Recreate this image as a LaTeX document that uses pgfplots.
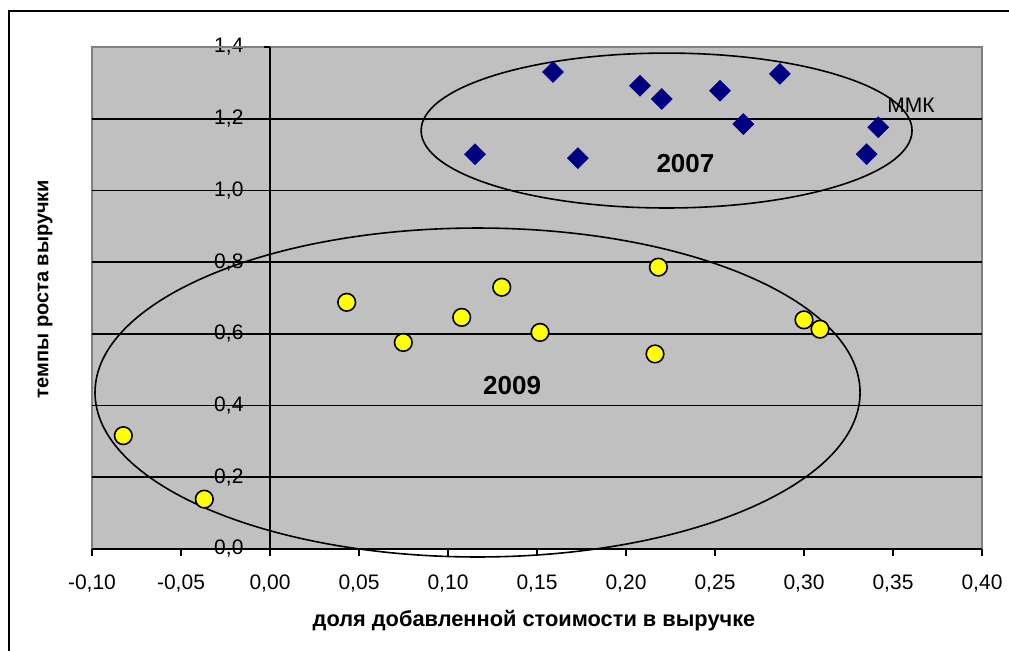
\documentclass[border=0pt]{standalone}
\usepackage{fontspec}
\setmainfont{Liberation Sans}
\usepackage{pgfplots}
\pgfplotsset{compat=1.18}
\definecolor{plotbg}{HTML}{C0C0C0}
\definecolor{plotborder}{HTML}{808080}
\definecolor{navyb}{HTML}{000080}
\definecolor{yel}{HTML}{FFFF00}
\begin{document}
\begin{tikzpicture}
\useasboundingbox (-46pt,-51pt) rectangle (458.5pt,274.5pt);
\fill[white] (-46pt,-51pt) rectangle (458.5pt,274.5pt);
\draw[line width=1pt] (-41.5pt,-60pt) -- (-41.5pt,269pt) -- (470pt,269pt);
\begin{axis}[
  at={(0,0)}, anchor=south west,
  scale only axis, width=445pt, height=251pt,
  xmin=-0.1, xmax=0.4, ymin=0, ymax=1.4,
  axis x line=bottom, axis y line=left,
  x axis line style={-, black, line width=0.8pt},
  y axis line style={draw=none},
  axis background/.style={fill=plotbg, draw=plotborder, line width=1.2pt},
  xtick={-0.1,-0.05,0,0.05,0.1,0.15,0.2,0.25,0.3,0.35,0.4},
  xticklabels={{-0,10},{-0,05},{0,00},{0,05},{0,10},{0,15},{0,20},{0,25},{0,30},{0,35},{0,40}},
  ytick={0,0.2,0.4,0.6,0.8,1.0,1.2,1.4},
  yticklabels={{0,0},{0,2},{0,4},{0,6},{0,8},{1,0},{1,2},{1,4}},
  xtick align=outside,
  major tick length=3.5pt,
  xtick style={black, line width=0.8pt},
  ytick style={draw=none},
  xticklabel style={font=\fontsize{10.5}{12}\selectfont, yshift=-6pt},
  yticklabel style={font=\fontsize{10.5}{12}\selectfont, anchor=east, xshift=81pt},
  ymajorgrids, grid style={black, line width=0.8pt},
  clip=false,
  every axis y label/.style={at={(axis description cs:-0.0528,0.518)},rotate=90,anchor=center},
  every axis x label/.style={at={(axis description cs:0.4966,-0.1434)},anchor=center},
  ylabel style={font=\fontsize{10}{12}\selectfont\bfseries},
  xlabel style={font=\fontsize{10.9}{12}\selectfont\bfseries},
  xlabel={доля добавленной стоимости в выручке},
  ylabel={темпы роста выручки},
]
\draw[plotborder, line width=1.2pt] (rel axis cs:0,1) -- (rel axis cs:1,1);
% y axis at x = 0 with ticks on its left
\draw[black, line width=0.8pt] (axis cs:0,0) -- (axis cs:0,1.4);
\pgfplotsinvokeforeach{0,0.2,0.4,0.6,0.8,1.0,1.2,1.4}{
  \draw[black, line width=0.8pt] (axis cs:0,#1) -- ([xshift=-3pt]axis cs:0,#1);
}
% 2007
\addplot[only marks, mark=square*, mark size=3.65pt, mark options={rotate=45, fill=navyb, draw=navyb}]
coordinates {
(0.1152,1.101) (0.159,1.330) (0.173,1.090) (0.2079,1.292) (0.2201,1.255)
(0.2528,1.278) (0.2865,1.325) (0.2659,1.185) (0.3417,1.176) (0.3352,1.101)
};
% 2009
\addplot[only marks, mark=*, mark size=4.4pt, mark options={fill=yel, draw=black, line width=0.8pt}]
coordinates {
(-0.0824,0.316) (-0.0369,0.139) (0.0431,0.688) (0.0749,0.576) (0.1077,0.646)
(0.1302,0.730) (0.1517,0.604) (0.2182,0.786) (0.2163,0.544) (0.300,0.639) (0.309,0.613)
};
\draw[black, line width=0.8pt] (axis cs:0.2228,1.167) ellipse [x radius=0.1379, y radius=0.216];
\draw[black, line width=0.8pt] (axis cs:0.1166,0.4364) ellipse [x radius=0.2149, y radius=0.4587];
\node[font=\fontsize{13}{15}\selectfont\bfseries] at (axis cs:0.2334,1.0756) {2007};
\node[font=\fontsize{13}{15}\selectfont\bfseries] at (axis cs:0.136,0.4545) {2009};
\node[font=\fontsize{10.5}{12}\selectfont] at (axis cs:0.3601,1.2368) {ММК};
\end{axis}
\end{tikzpicture}
\end{document}
